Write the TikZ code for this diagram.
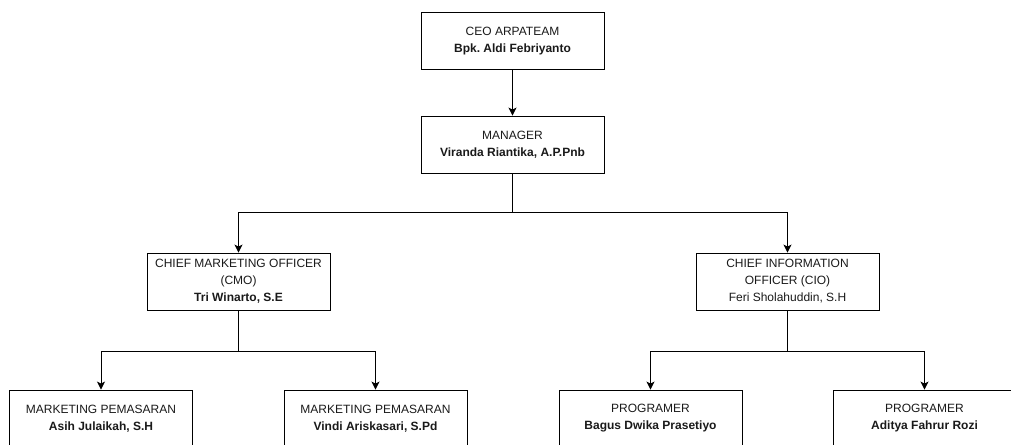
\documentclass[tikz,border=0pt]{standalone}
\usepackage{fontspec}
\setmainfont{Liberation Sans}
\usetikzlibrary{arrows.meta}
\definecolor{ln}{HTML}{000000}
\definecolor{tx}{HTML}{1A1A1A}
\frenchspacing
\begin{document}
\begin{tikzpicture}[x=1pt,y=-1pt,
  box/.style={draw=ln,line width=0.9pt,minimum width=183pt,minimum height=57pt,align=center,font=\fontsize{12}{17}\selectfont,text=tx,inner sep=0pt},
  conn/.style={draw=ln,line width=0.9pt,-{Stealth[length=8pt,width=8pt,inset=2pt]}}]
\useasboundingbox (0,0) rectangle (1011,444);
\clip (0,0) rectangle (1011,444);
\fill[white] (0,0) rectangle (1011,444);
\node[box] (ceo) at (512.5,41) {CEO ARPATEAM\\\textbf{Bpk. Aldi Febriyanto}};
\node[box] (mgr) at (512.5,144.5) {MANAGER\\\textbf{Viranda Riantika, A.P.Pnb}};
\node[box] (cmo) at (238.5,281.5) {CHIEF MARKETING OFFICER\\(CMO)\\\textbf{Tri Winarto, S.E}};
\node[box] (cio) at (787.5,281.5) {CHIEF INFORMATION\\OFFICER (CIO)\\Feri Sholahuddin, S.H};
\node[box] (m1) at (101,418.5) {MARKETING PEMASARAN\\\textbf{Asih Julaikah, S.H}};
\node[box] (m2) at (375.5,418.5) {MARKETING PEMASARAN\\\textbf{Vindi Ariskasari, S.Pd}};
\node[box] (p1) at (650.5,418.5) {PROGRAMER\\\textbf{Bagus Dwika Prasetiyo}};
\node[box] (p2) at (924.5,418.5) {PROGRAMER\\\textbf{Aditya Fahrur Rozi}};
\draw[conn] (ceo.south) -- (mgr.north);
\draw[conn] (mgr.south) -- ++(0,39) -| (cmo.north);
\draw[conn] (mgr.south) -- ++(0,39) -| (cio.north);
\draw[conn] (cmo.south) -- ++(0,41) -| (m1.north);
\draw[conn] (cmo.south) -- ++(0,41) -| (m2.north);
\draw[conn] (cio.south) -- ++(0,41) -| (p1.north);
\draw[conn] (cio.south) -- ++(0,41) -| (p2.north);
\end{tikzpicture}
\end{document}
